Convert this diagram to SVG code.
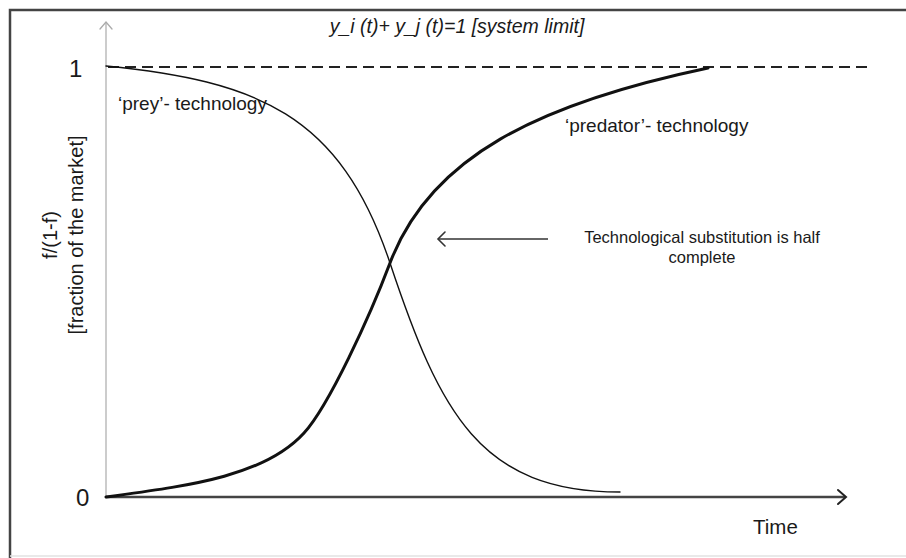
<svg xmlns="http://www.w3.org/2000/svg" width="906" height="558" viewBox="0 0 906 558">
<style>
text{font-family:"Liberation Sans",Arial,sans-serif;fill:#1a1a1a}
.lbl{font-size:19px}
.tick{font-size:24px}
.curve{fill:none;stroke:#111;stroke-linecap:round;stroke-linejoin:round}
.chev{fill:none;stroke-linecap:round;stroke-linejoin:miter}
</style>
<rect width="906" height="558" fill="#fff"/>
<g id="frame">
<path d="M10,558 V10 H906" fill="none" stroke="#444" stroke-width="2.5"/>
<path d="M10,556 H906" fill="none" stroke="#e2e2e2" stroke-width="1.5"/>
</g>
<g id="axes">
<path d="M106,497 V23" stroke="#bbb" stroke-width="1.5" fill="none"/>
<path class="chev" d="M100,29 L106,22 L112,29" stroke="#aaa" stroke-width="1.3"/>
<path d="M106,497 H845" stroke="#444" stroke-width="2.5" fill="none"/>
<path class="chev" d="M838,490 L846,497 L838,504" stroke="#222" stroke-width="2"/>
<path d="M108,67 H872" stroke="#222" stroke-width="2" stroke-dasharray="11 6" fill="none"/>
<text class="tick" x="69" y="77">1</text>
<text class="tick" x="76" y="506">0</text>
<text x="753" y="534" style="font-size:20.5px">Time</text>
<text transform="translate(57,235) rotate(-90)" text-anchor="middle" style="font-size:20px">f/(1-f)</text>
<text transform="translate(83,235) rotate(-90)" text-anchor="middle" style="font-size:20px">[fraction of the market]</text>
<text x="457" y="33" text-anchor="middle" style="font-size:19.5px;font-style:italic">y_i (t)+ y_j (t)=1 [system limit]</text>
</g>
<g id="prey">
<path class="curve" stroke-width="1.4" d="M106,66 C256,81 340,113 390,263 C440,413 480,492 620,492"/>
<text class="lbl" x="118" y="110">‘prey’- technology</text>
</g>
<g id="predator">
<path class="curve" stroke-width="3" d="M106,497 C186,486 264,477 304,433 C329,405.5 370,316 390,263 C430,157 538,103.7 708,68"/>
<text class="lbl" x="565" y="132">‘predator’- technology</text>
</g>
<g id="connectors">
<path d="M548,239 H439" stroke="#333" stroke-width="1.6" fill="none"/>
<path class="chev" d="M445,232 L438,239 L445,246" stroke="#333" stroke-width="1.6"/>
</g>
<g id="note">
<text x="702" y="243" text-anchor="middle" style="font-size:16.5px">Technological substitution is half</text>
<text x="702" y="263" text-anchor="middle" style="font-size:16.5px">complete</text>
</g>
</svg>
